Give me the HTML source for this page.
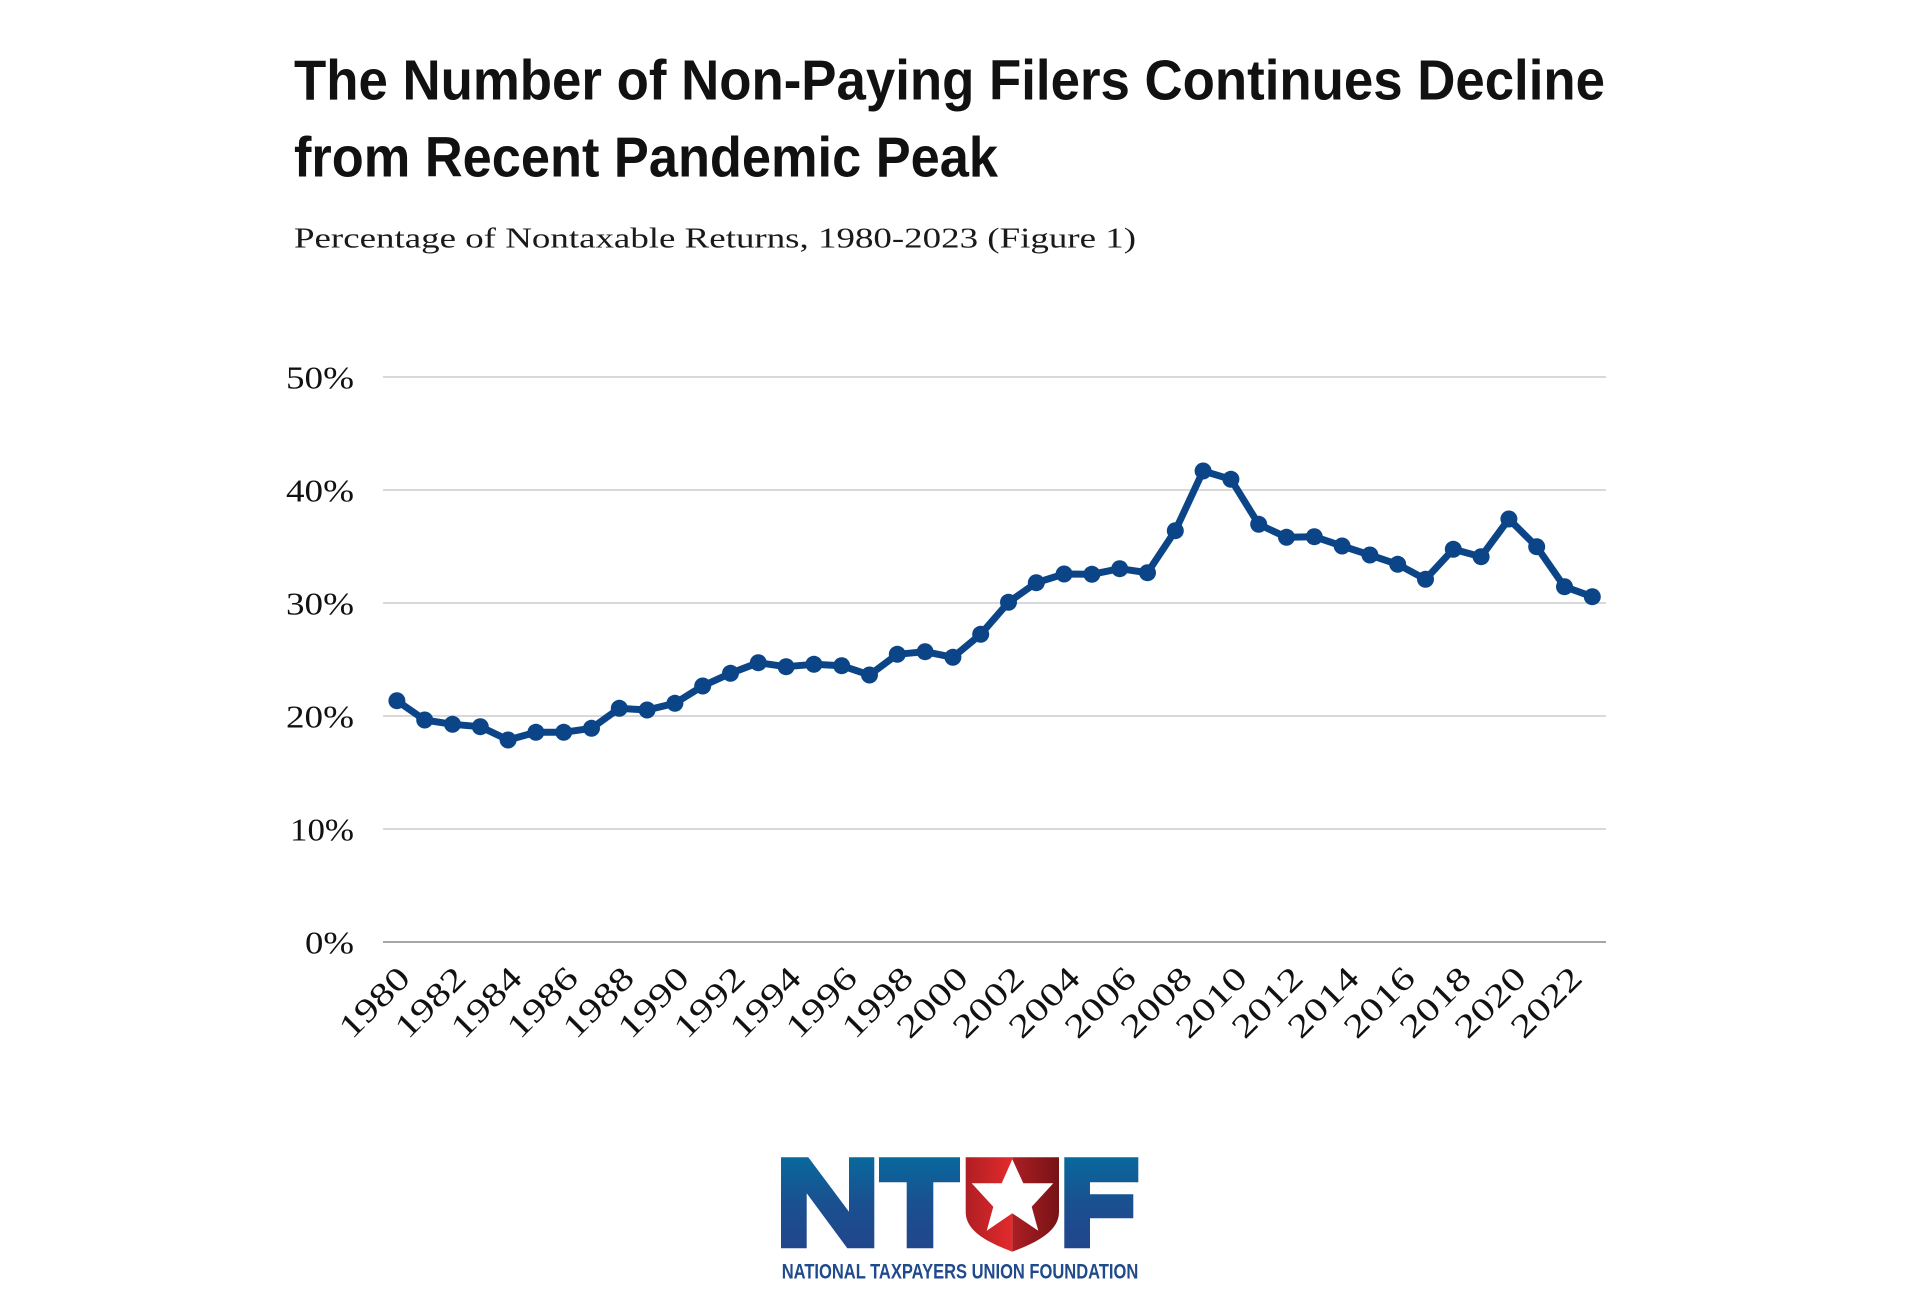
<!DOCTYPE html>
<html>
<head>
<meta charset="utf-8">
<style>
  html, body { margin: 0; padding: 0; background: #ffffff; }
  svg { display: block; }
</style>
</head>
<body>
<svg width="1920" height="1313" viewBox="0 0 1920 1313" xmlns="http://www.w3.org/2000/svg">
  <defs>
    <linearGradient id="blue" gradientUnits="userSpaceOnUse" x1="0" y1="1157" x2="0" y2="1249">
      <stop offset="0" stop-color="#08699D"/>
      <stop offset="0.5" stop-color="#1A5090"/>
      <stop offset="1" stop-color="#21468B"/>
    </linearGradient>
    <linearGradient id="redL" gradientUnits="userSpaceOnUse" x1="965.7" y1="0" x2="1012.3" y2="0">
      <stop offset="0" stop-color="#B01E24"/>
      <stop offset="1" stop-color="#E22B2C"/>
    </linearGradient>
    <linearGradient id="redR" gradientUnits="userSpaceOnUse" x1="1012.3" y1="0" x2="1059" y2="0">
      <stop offset="0" stop-color="#AC1E23"/>
      <stop offset="1" stop-color="#771316"/>
    </linearGradient>
    <marker id="dot" markerUnits="userSpaceOnUse" markerWidth="20" markerHeight="20" refX="10" refY="10" viewBox="0 0 20 20" overflow="visible">
      <circle cx="10" cy="10" r="8.5" fill="#0B4487"/>
    </marker>
  </defs>

  <text x="294" y="99.3" font-family="'Liberation Sans', Arial, sans-serif" font-weight="bold" font-size="57" fill="#111111" textLength="1311" lengthAdjust="spacingAndGlyphs">The Number of Non-Paying Filers Continues Decline</text>
  <text x="294" y="176.7" font-family="'Liberation Sans', Arial, sans-serif" font-weight="bold" font-size="57" fill="#111111" textLength="704" lengthAdjust="spacingAndGlyphs">from Recent Pandemic Peak</text>
  <text x="294" y="247.3" font-family="'Liberation Serif', 'Times New Roman', serif" font-size="29" fill="#1a1a1a" textLength="842" lengthAdjust="spacingAndGlyphs">Percentage of Nontaxable Returns, 1980-2023 (Figure 1)</text>

  <path d="M383 377H1606M383 490H1606M383 603H1606M383 716H1606M383 829H1606" stroke="#D9D9D9" stroke-width="2" fill="none"/>
  <path d="M383 942H1606" stroke="#A6A6A6" stroke-width="2" fill="none"/>

  <g font-family="'Liberation Serif', 'Times New Roman', serif" font-size="32" fill="#111111" text-anchor="end">
    <text x="354" y="388.5" textLength="68" lengthAdjust="spacingAndGlyphs">50%</text>
    <text x="354" y="501.5" textLength="68" lengthAdjust="spacingAndGlyphs">40%</text>
    <text x="354" y="614.5" textLength="68" lengthAdjust="spacingAndGlyphs">30%</text>
    <text x="354" y="727.5" textLength="68" lengthAdjust="spacingAndGlyphs">20%</text>
    <text x="354" y="840.5" textLength="64" lengthAdjust="spacingAndGlyphs">10%</text>
    <text x="354" y="953.5" textLength="49" lengthAdjust="spacingAndGlyphs">0%</text>
  </g>

  <g font-family="'Liberation Serif', 'Times New Roman', serif" font-size="33" fill="#111111" text-anchor="end">
    <text transform="translate(412,980) rotate(-45)" textLength="85" lengthAdjust="spacingAndGlyphs">1980</text>
    <text transform="translate(468,980) rotate(-45)" textLength="85" lengthAdjust="spacingAndGlyphs">1982</text>
    <text transform="translate(524,980) rotate(-45)" textLength="85" lengthAdjust="spacingAndGlyphs">1984</text>
    <text transform="translate(580,980) rotate(-45)" textLength="85" lengthAdjust="spacingAndGlyphs">1986</text>
    <text transform="translate(636,980) rotate(-45)" textLength="85" lengthAdjust="spacingAndGlyphs">1988</text>
    <text transform="translate(691,980) rotate(-45)" textLength="85" lengthAdjust="spacingAndGlyphs">1990</text>
    <text transform="translate(747,980) rotate(-45)" textLength="85" lengthAdjust="spacingAndGlyphs">1992</text>
    <text transform="translate(803,980) rotate(-45)" textLength="85" lengthAdjust="spacingAndGlyphs">1994</text>
    <text transform="translate(859,980) rotate(-45)" textLength="85" lengthAdjust="spacingAndGlyphs">1996</text>
    <text transform="translate(915,980) rotate(-45)" textLength="85" lengthAdjust="spacingAndGlyphs">1998</text>
    <text transform="translate(970,980) rotate(-45)" textLength="85" lengthAdjust="spacingAndGlyphs">2000</text>
    <text transform="translate(1026,980) rotate(-45)" textLength="85" lengthAdjust="spacingAndGlyphs">2002</text>
    <text transform="translate(1082,980) rotate(-45)" textLength="85" lengthAdjust="spacingAndGlyphs">2004</text>
    <text transform="translate(1138,980) rotate(-45)" textLength="85" lengthAdjust="spacingAndGlyphs">2006</text>
    <text transform="translate(1194,980) rotate(-45)" textLength="85" lengthAdjust="spacingAndGlyphs">2008</text>
    <text transform="translate(1249,980) rotate(-45)" textLength="85" lengthAdjust="spacingAndGlyphs">2010</text>
    <text transform="translate(1305,980) rotate(-45)" textLength="85" lengthAdjust="spacingAndGlyphs">2012</text>
    <text transform="translate(1361,980) rotate(-45)" textLength="85" lengthAdjust="spacingAndGlyphs">2014</text>
    <text transform="translate(1417,980) rotate(-45)" textLength="85" lengthAdjust="spacingAndGlyphs">2016</text>
    <text transform="translate(1473,980) rotate(-45)" textLength="85" lengthAdjust="spacingAndGlyphs">2018</text>
    <text transform="translate(1528,980) rotate(-45)" textLength="85" lengthAdjust="spacingAndGlyphs">2020</text>
    <text transform="translate(1584,980) rotate(-45)" textLength="85" lengthAdjust="spacingAndGlyphs">2022</text>
  </g>

  <polyline fill="none" stroke="#0B4487" stroke-width="7" stroke-linejoin="round" stroke-linecap="round" marker-start="url(#dot)" marker-mid="url(#dot)" marker-end="url(#dot)"
    points="396.9,700.7 424.7,720 452.5,724.3 480.3,726.7 508.1,740 535.9,732.3 563.7,732.3 591.5,728.3 619.3,708.3 647.1,710 674.9,703.3 702.7,686 730.5,673.3 758.3,662.7 786.1,666.7 813.9,664.3 841.7,665.7 869.5,675 897.3,654.3 925.1,651.7 952.9,657.3 980.7,634.3 1008.5,602.3 1036.3,582.7 1064.1,574 1091.9,574.3 1119.7,568.7 1147.5,572.7 1175.3,530.7 1203.1,471 1230.9,479.3 1258.7,524.3 1286.5,537.3 1314.3,536.7 1342.1,546 1369.9,555 1397.7,564.3 1425.5,579.3 1453.3,549.3 1481.1,556.7 1508.9,519 1536.7,546.7 1564.5,586.7 1592.3,596.7"/>

  <g fill="url(#blue)">
    <polygon points="781,1157.3 808.3,1157.3 849,1211.7 849,1157.3 874.3,1157.3 874.3,1248.3 847.3,1248.3 806.7,1193.3 806.7,1248.3 781,1248.3"/>
    <polygon points="879,1157.3 960,1157.3 960,1182.3 933.3,1182.3 933.3,1248.3 906.7,1248.3 906.7,1182.3 879,1182.3"/>
    <polygon points="1064.3,1157.3 1138.3,1157.3 1138.3,1182.3 1090,1182.3 1090,1194.3 1133.3,1194.3 1133.3,1218.3 1090,1218.3 1090,1248.3 1064.3,1248.3"/>
  </g>
  <path d="M965.7,1157.3 H1012.3 V1251.7 C989.6,1243 965.7,1232 965.7,1212 Z" fill="url(#redL)"/>
  <path d="M1012.3,1157.3 H1059 V1212 C1059,1232 1035,1243 1012.3,1251.7 Z" fill="url(#redR)"/>
  <polygon fill="#ffffff" points="1012.3,1159.3 1023.3,1183.3 1053.3,1183.3 1031.7,1206.7 1038.3,1230.7 1012.3,1213.3 986.7,1230.7 993.3,1206.7 971.7,1183.3 1001.7,1183.3"/>
  <text x="781.7" y="1278.3" font-family="'Liberation Sans', Arial, sans-serif" font-weight="bold" font-size="21" fill="#1F4A8C" textLength="356.6" lengthAdjust="spacingAndGlyphs">NATIONAL TAXPAYERS UNION FOUNDATION</text>
</svg>
</body>
</html>
